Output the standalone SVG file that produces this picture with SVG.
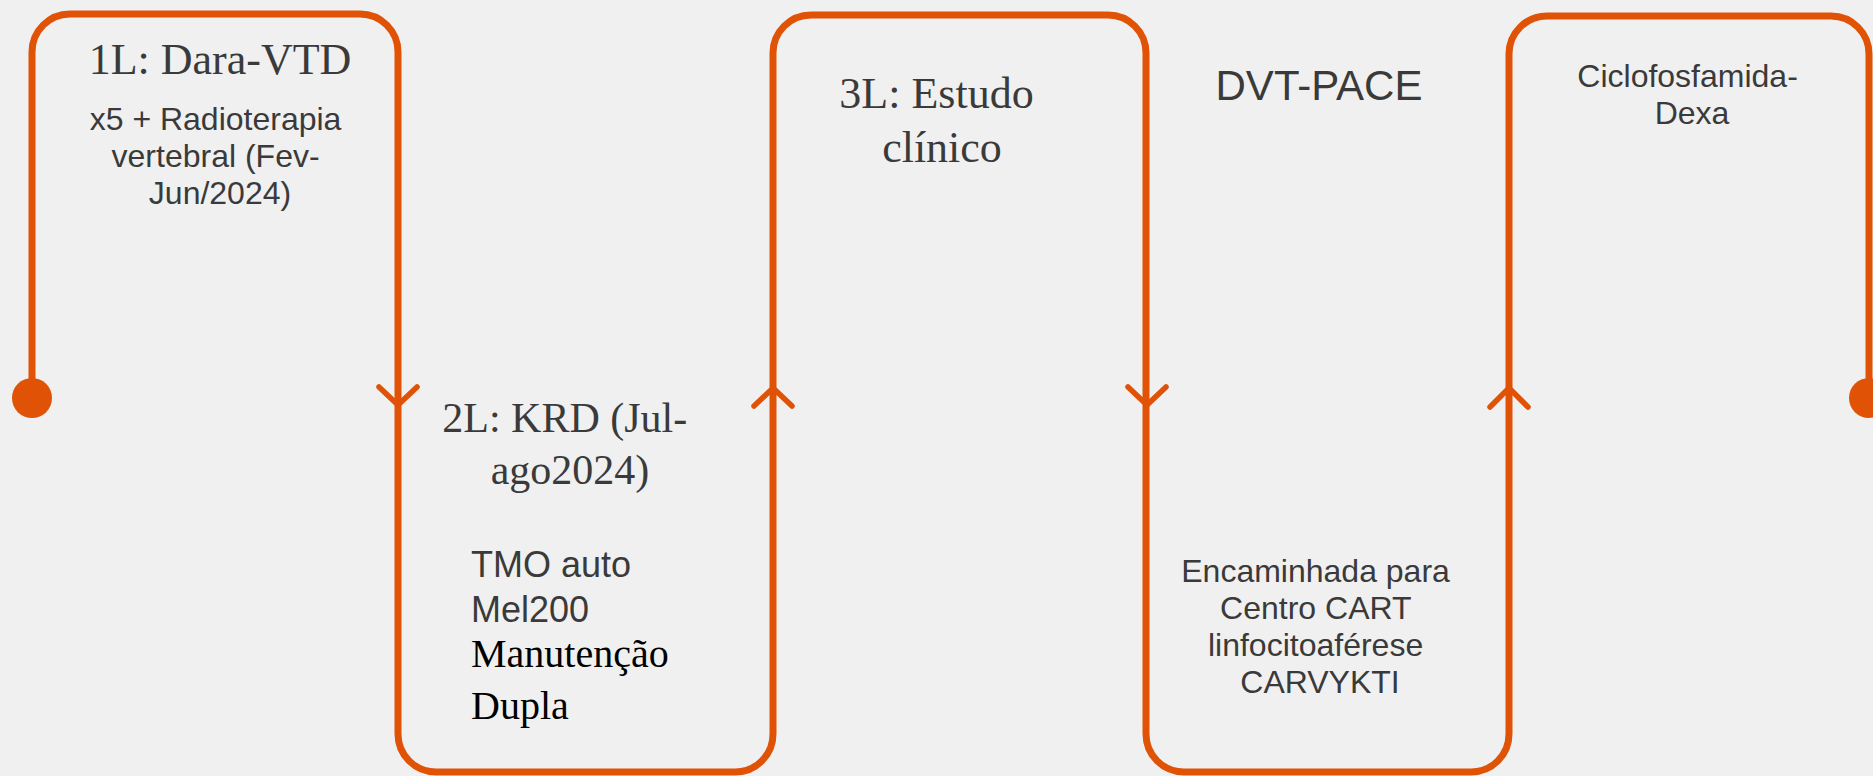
<svg xmlns="http://www.w3.org/2000/svg" width="1873" height="776" viewBox="0 0 1873 776">
  <style>
    .line { fill: none; stroke: #E05206; stroke-width: 7; stroke-linejoin: round; }
    .chev { fill: none; stroke: #E05206; stroke-width: 5.5; stroke-linecap: round; stroke-linejoin: round; }
    .dot { fill: #E05206; }
    .serif { font-family: "Liberation Serif", "DejaVu Serif", serif; fill: #3a3a3a; }
    .serifb { font-family: "Liberation Serif", "DejaVu Serif", serif; fill: #000000; }
    .sans { font-family: "Liberation Sans", Arial, sans-serif; fill: #3a3a3a; }
  </style>
  <rect x="0" y="0" width="1873" height="776" fill="#F0F0F0"/>
  <g id="connectors">
    <path class="line" d="M32,398 V52 A38,38 0 0 1 70,14 H360 A38,38 0 0 1 398,52 V734 A38,38 0 0 0 436,772 H735 A38,38 0 0 0 773,734 V53 A38,38 0 0 1 811,15 H1108 A38,38 0 0 1 1146,53 V734 A38,38 0 0 0 1184,772 H1471 A38,38 0 0 0 1509,734 V54 A38,38 0 0 1 1547,16 H1831 A38,38 0 0 1 1869,54 V398"/>
    <circle class="dot" cx="32" cy="398" r="20"/>
    <circle class="dot" cx="1869" cy="398" r="20"/>
    <polyline class="chev" points="379,387 398,405 417,387"/>
    <polyline class="chev" points="754,406 773,388 792,406"/>
    <polyline class="chev" points="1128,387 1147,405 1166,387"/>
    <polyline class="chev" points="1490,407 1509,388 1528,407"/>
  </g>
  <g id="node-1L">
    <text class="serif" x="220" y="74" font-size="44" text-anchor="middle">1L: Dara-VTD</text>
    <text class="sans" font-size="32" text-anchor="middle">
      <tspan x="220" y="130">x5 + Radioterapia</tspan>
      <tspan x="220" y="167">vertebral (Fev-</tspan>
      <tspan x="220" y="204">Jun/2024)</tspan>
    </text>
  </g>
  <g id="node-2L">
    <text class="serif" font-size="42" text-anchor="middle">
      <tspan x="570" y="432">2L: KRD (Jul-</tspan>
      <tspan x="570" y="484">ago2024)</tspan>
    </text>
    <text class="sans" font-size="36">
      <tspan x="471" y="577">TMO auto</tspan>
      <tspan x="471" y="622">Mel200</tspan>
    </text>
    <text class="serifb" font-size="40">
      <tspan x="471" y="667">Manutenção</tspan>
      <tspan x="471" y="719">Dupla</tspan>
    </text>
  </g>
  <g id="node-3L">
    <text class="serif" font-size="44" text-anchor="middle">
      <tspan x="942" y="108">3L: Estudo</tspan>
      <tspan x="942" y="162">clínico</tspan>
    </text>
  </g>
  <g id="node-dvt-pace">
    <text class="sans" x="1319" y="100" font-size="42" text-anchor="middle">DVT-PACE</text>
    <text class="sans" font-size="32" text-anchor="middle">
      <tspan x="1320" y="582">Encaminhada para</tspan>
      <tspan x="1320" y="619">Centro CART</tspan>
      <tspan x="1320" y="656">linfocitoaférese</tspan>
      <tspan x="1320" y="693">CARVYKTI</tspan>
    </text>
  </g>
  <g id="node-ciclo">
    <text class="sans" font-size="32" text-anchor="middle">
      <tspan x="1692" y="87">Ciclofosfamida-</tspan>
      <tspan x="1692" y="124">Dexa</tspan>
    </text>
  </g>
</svg>
